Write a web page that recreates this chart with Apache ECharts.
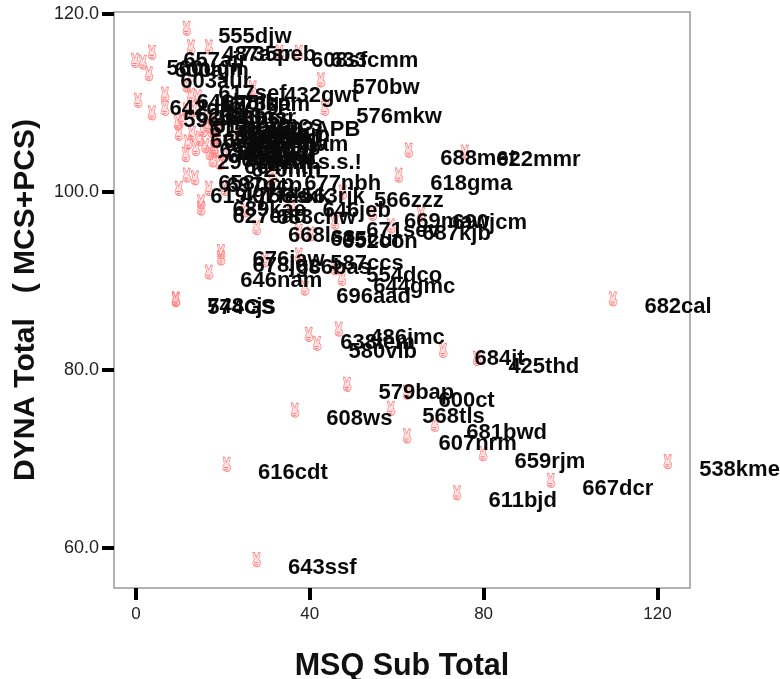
<!DOCTYPE html>
<html>
<head>
<meta charset="utf-8">
<title>DYNA vs MSQ</title>
<script src="https://cdn.jsdelivr.net/npm/echarts@6/dist/echarts.min.js"></script>
<style>
  html, body { margin: 0; padding: 0; background: #fff; }
  #main { width: 780px; height: 679px; }
</style>
</head>
<body>
<div id="main"></div>
<script>
const xTicks = [0, 40, 80, 120];
const yTicks = [60, 80, 100, 120];

const cases = [
  '555djw', '682cal', '538kme', '667dcr', '659rjm', '611bjd', '681bwd', '607nrm', '600ct', '579bap',
  '608ws', '568tls', '616cdt', '643ssf', '684jt', '425thd', '486jmc', '638iem', '580vlb', '696aad',
  '644gmc', '554dco', '587ccs', '676jaw', '678jgc', '686bas', '646nam', '574GS', '748cjs', '688met',
  '622mmr', '618gma', '566zzz', '669maw', '690jcm', '671sev', '687kjb', '668lss', '635cur', '652con',
  '677nbh', '658ncp', '697ncp', '619kjl', '497fes', '756kkk', '563rjk', '689kae', '627ead', '683chw',
  '646jeb', '297vr', '292in.s.s.!', '664mtn', '620nln', '657ajr', '487asr', '735peb', '608sf', '633cmm',
  '560ugn', '600ajm', '603aur', '570bw', '432gwt', '617sef', '576mkw', '642dhs', '596jrs', '641hmg',
  '623tnm', '675lkp', '673sam', '628gsr', '692APB', '649sam', '612mrh', '615bam', '609ktn', '674bam',
  '631dwm', '654fts', '593psr', '665btn', '624kdr', '637hrm', '651wkd', '626tbs', '639gnd', '647fwr',
  '672mcs', '655dks', '613ptn', '663brk', '658lmw'
];
const msq = [
  11.7, 109.8, 122.4, 95.5, 79.9, 73.9, 68.8, 62.4, 62.4, 48.6,
  36.6, 58.7, 20.9, 27.8, 70.7, 78.5, 46.7, 39.8, 41.7, 38.9,
  47.4, 45.8, 37.5, 19.6, 19.6, 29.7, 16.8, 9.2, 9.2, 62.8,
  75.7, 60.5, 47.6, 54.5, 65.6, 45.8, 58.7, 27.8, 37.5, 40.2,
  31.5, 11.7, 13.6, 9.9, 16.8, 20.5, 30.8, 15, 15, 25.1,
  35.7, 11.5, 20.3, 17.7, 19.3, 3.7, 12.7, 16.8, 33.1, 37.5,
  -0.2, 1.6, 3, 42.6, 26.9, 11.7, 43.5, 0.5, 3.7, 6.7,
  6.7, 12.7, 14.3, 13.3, 25.3, 18.9, 10.6, 9.7, 9.9, 22.8,
  12.9, 12, 11.7, 16.5, 18, 14.7, 16, 18.2, 17.5, 13.8,
  17.2, 18, 15.5, 17, 18.5
];
const dyna = [
  118.4, 88, 69.7, 67.6, 70.6, 66.2, 73.9, 72.6, 77.5, 78.4,
  75.5, 75.7, 69.4, 58.7, 82.2, 81.3, 84.6, 84, 83, 89.2,
  90.3, 91.5, 92.9, 93.3, 92.6, 92.4, 91, 87.9, 88, 104.7,
  104.5, 101.9, 100, 97.6, 97.5, 96.6, 96.2, 96, 95.6, 95.3,
  101.8, 101.9, 101.6, 100.4, 100.4, 100.4, 100.4, 98.9, 98.2, 98,
  98.8, 104.2, 104.2, 103.6, 103.3, 115.7, 116.3, 116.3, 115.7, 115.7,
  114.8, 114.6, 113.3, 112.6, 111.7, 112, 109.4, 110.3, 108.9, 111,
  109.4, 110.9, 110.7, 109.3, 107.9, 107.3, 108.3, 107.8, 106.6, 106.2,
  106.6, 105.6, 109.2, 107.5, 105, 106, 105.2, 104.7, 106.9, 104.9,
  108.5, 105.8, 107, 104.4, 106.4
];

const hand = 'path://M2 0 L3.6 0 L5 5 L7 0 L8.6 0.4 L7.2 7 A3.6 3.6 0 1 1 2.6 8 L3.2 6 Z M3 10 L7 10 M3.6 12 L6.4 12';

const chart = echarts.init(document.getElementById('main'), null, { renderer: 'canvas' });
chart.setOption({
  animation: false,
  backgroundColor: '#fff',
  textStyle: { fontFamily: 'Liberation Sans' },
  grid: {
    show: true,
    left: 114,
    right: 90,
    top: 12,
    bottom: 91,
    outerBoundsMode: 'none',
    borderColor: '#999',
    borderWidth: 1.5,
    backgroundColor: 'transparent'
  },
  xAxis: {
    type: 'value',
    min: -5.06,
    max: 127.5,
    splitLine: { show: false },
    axisLine: { show: false, onZero: false },
    axisTick: { show: true, length: 12, customValues: xTicks, lineStyle: { color: '#000', width: 4 } },
    axisLabel: { customValues: xTicks, color: '#222', fontSize: 17, margin: 18 },
    name: 'MSQ Sub Total',
    nameLocation: 'middle',
    nameGap: 63,
    nameTextStyle: { color: '#111', fontSize: 30.5, fontWeight: 'bold' }
  },
  yAxis: {
    type: 'value',
    min: 55.5,
    max: 120.22,
    splitLine: { show: false },
    axisLine: { show: false, onZero: false },
    axisTick: { show: true, length: 12, customValues: yTicks, lineStyle: { color: '#000', width: 4 } },
    axisLabel: {
      customValues: yTicks,
      color: '#222',
      fontSize: 18,
      margin: 15,
      formatter: (v) => v.toFixed(1)
    },
    name: 'DYNA Total   ( MCS+PCS)',
    nameLocation: 'middle',
    nameGap: 73,
    nameTextStyle: { color: '#111', fontSize: 30, fontWeight: 'bold' }
  },
  series: [
    {
      type: 'scatter',
      clip: false,
      symbol: hand,
      symbolSize: [8, 14],
      itemStyle: { color: 'rgba(255,120,120,0.2)', borderColor: '#ff8080', borderWidth: 0.8, opacity: 1 },
      label: {
        show: true,
        position: 'right',
        distance: 27,
        offset: [0, 8.5],
        formatter: (p) => cases[p.dataIndex],
        color: '#0a0a0a',
        fontSize: 22,
        fontWeight: 'bold'
      },
      data: msq.map((v, i) => [v, dyna[i]])
    }
  ]
});
</script>
</body>
</html>
